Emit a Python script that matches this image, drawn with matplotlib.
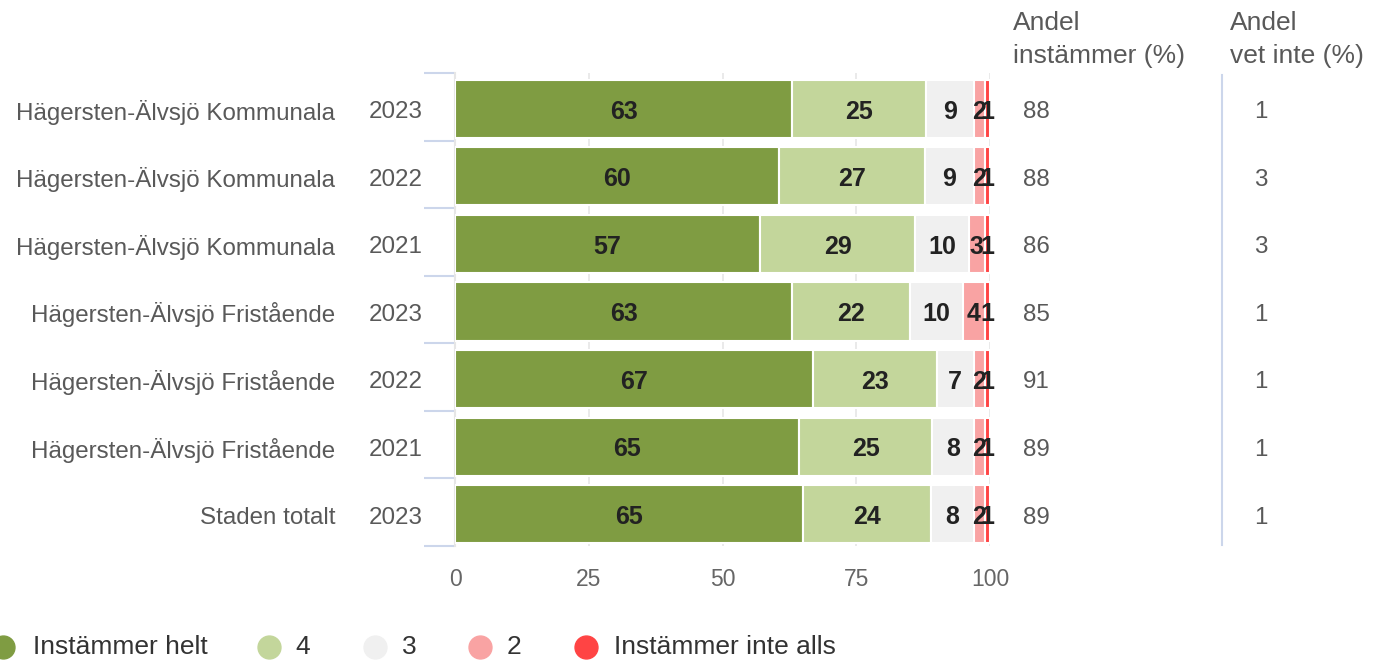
import numpy as np
import matplotlib
matplotlib.use("Agg")
import matplotlib.pyplot as plt
from matplotlib.lines import Line2D
from matplotlib.transforms import blended_transform_factory

plt.rcParams['font.family'] = ['Liberation Sans', 'DejaVu Sans']

# data
enheter = ["Hägersten-Älvsjö Kommunala", "Hägersten-Älvsjö Kommunala", "Hägersten-Älvsjö Kommunala",
           "Hägersten-Älvsjö Fristående", "Hägersten-Älvsjö Fristående", "Hägersten-Älvsjö Fristående",
           "Staden totalt"]
ar = ["2023", "2022", "2021", "2023", "2022", "2021", "2023"]
serier = ["Instämmer helt", "4", "3", "2", "Instämmer inte alls"]
helt = [63, 60, 57, 63, 67, 65, 65]
fyra = [25, 27, 29, 22, 23, 25, 24]
tre = [9, 9, 10, 10, 7, 8, 8]
tva = [2, 2, 3, 4, 2, 2, 2]
inte_alls = [1, 1, 1, 1, 1, 1, 1]
andel_instammer = [88, 88, 86, 85, 91, 89, 89]
andel_vet_inte = [1, 3, 3, 1, 1, 1, 1]

farger = ["#7f9c42", "#c3d69b", "#f0f0f0", "#f9a3a3", "#ff4444"]

W, H = 1386, 663
fig = plt.figure(figsize=(W / 100, H / 100), dpi=100)
ax = fig.add_axes([455 / W, 117 / H, 535 / W, 473 / H])

data = np.array([helt, fyra, tre, tva, inte_alls], dtype=float)
andel = data / data.sum(axis=0) * 100  # procentstaplar
y = np.arange(len(enheter))
yb = y + 0.03  # staplarna ligger lite under bandets mitt
left = np.zeros(len(enheter))
for i in range(len(serier)):
    ax.barh(yb, andel[i], left=left, height=0.86, color=farger[i],
            edgecolor="white", linewidth=1.5, zorder=3)
    for j in range(len(y)):
        ax.text(left[j] + andel[i][j] / 2, yb[j] + 0.04, str(int(data[i][j])),
                ha="center", va="center", fontsize=18, fontweight="bold",
                color="#222222", zorder=4)
    left = left + andel[i]

ax.set_xlim(0, 100)
ax.set_ylim(len(y) - 0.5, -0.5)
ax.set_xticks([0, 25, 50, 75, 100])
ax.tick_params(axis="x", length=0, pad=15.5, labelsize=16.5, labelcolor="#666666")
ax.set_yticks(np.arange(len(y) + 1) - 0.5)
ax.set_yticklabels([])
ax.tick_params(axis="y", length=22, width=1.5, color="#ccd6eb")
ax.grid(axis="x", color="#e6e6e6", linewidth=1.2, zorder=0)
for s in ["top", "right", "bottom"]:
    ax.spines[s].set_visible(False)
ax.spines["left"].set_color("#e6e6e6")
ax.spines["left"].set_linewidth(1.5)

tr = blended_transform_factory(fig.transFigure, ax.transData)
for j in range(len(y)):
    ty = y[j] + 0.08
    ax.text(335 / W, ty, enheter[j], transform=tr, ha="right", va="center",
            fontsize=17.4, color="#595959")
    ax.text(369 / W, ty, ar[j], transform=tr, ha="left", va="center",
            fontsize=17.4, color="#595959")
    ax.text(1023 / W, ty, str(andel_instammer[j]), transform=tr, ha="left",
            va="center", fontsize=17.4, color="#595959")
    ax.text(1261 / W, ty, str(andel_vet_inte[j]), transform=tr, ha="center",
            va="center", fontsize=17.4, color="#595959")

fig.text(1013 / W, 1 - 11 / H, "Andel\ninstämmer (%)", ha="left", va="top",
         fontsize=19, color="#595959", linespacing=1.45)
fig.text(1230 / W, 1 - 11 / H, "Andel\nvet inte (%)", ha="left", va="top",
         fontsize=19, color="#595959", linespacing=1.45)
fig.add_artist(Line2D([1222 / W, 1222 / W], [118 / H, 588 / H],
                      transform=fig.transFigure, color="#ccd6eb", linewidth=1.5))

# legend, placerad för hand
leg_cirkel_x = [3, 269, 375, 480, 586]
leg_text_x = [33, 295, 402, 507, 614]
leg_y = 1 - 647 / H
for c, cx, tx, namn in zip(farger, leg_cirkel_x, leg_text_x, serier):
    fig.add_artist(Line2D([cx / W], [leg_y], marker="o", linestyle="",
                          markersize=16.5, markerfacecolor=c, markeredgecolor=c,
                          transform=fig.transFigure))
    fig.text(tx / W, leg_y, namn, ha="left", va="center", fontsize=19,
             color="#333333")

fig.savefig("out.png", dpi=100)
